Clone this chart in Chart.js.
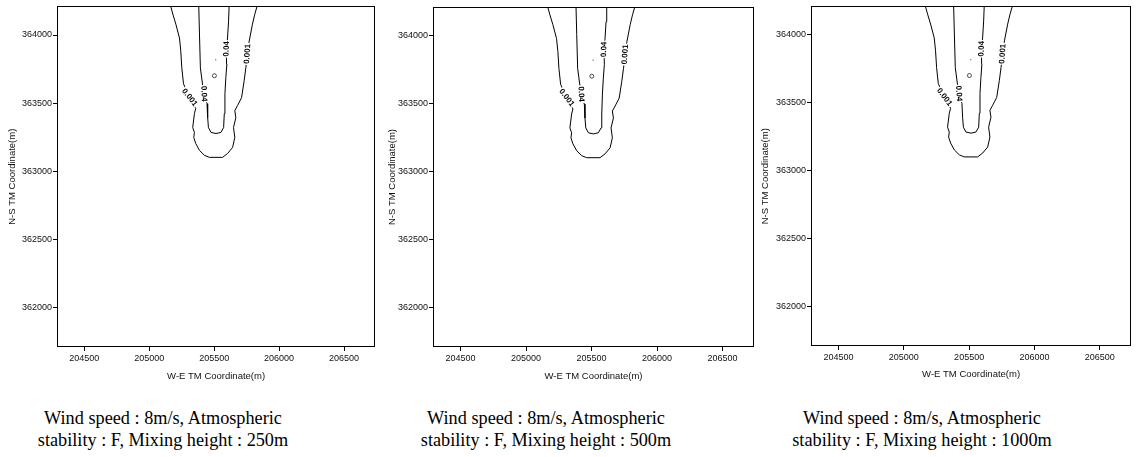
<!DOCTYPE html>
<html>
<head>
<meta charset="utf-8">
<title>Concentration contours - mixing height</title>
<script src="https://cdn.jsdelivr.net/npm/chart.js@4.4.1/dist/chart.umd.min.js"></script>
<style>
body { margin: 0; background: #fff; width: 1136px; height: 457px; overflow: hidden; position: relative; }
.panel { position: absolute; top: 0; height: 390px; }
.cap { position: absolute; top: 407px; font-family: "Liberation Serif", "DejaVu Serif", serif; font-size: 19px;
       line-height: 22px; color: #000; white-space: nowrap; text-align: center; transform: translateX(-50%) scaleX(0.96); }
</style>
</head>
<body>
<div class="panel" style="left:0;width:380px"><canvas id="c1"></canvas></div>
<div class="panel" style="left:380px;width:380px"><canvas id="c2"></canvas></div>
<div class="panel" style="left:760px;width:376px"><canvas id="c3"></canvas></div>
<div class="cap" id="cap1" style="left:163px"></div>
<div class="cap" id="cap2" style="left:546px"></div>
<div class="cap" id="cap3" style="left:922px"></div>
<script>
// axis extents and ticks (TM coordinates, m)
var xMin = 204290, xMax = 206740;
var yMin = 361710, yMax = 364210;
var xTicks = [204500, 205000, 205500, 206000, 206500];
var yTicks = [362000, 362500, 363000, 363500, 364000];

// 0.001 contour
var outerX = [205160, 205182, 205205, 205233, 205243, 205251, 205264, 205310, 205358, 205348, 205335, 205348,
  205343, 205358, 205387, 205425, 205463, 205565, 205604, 205642, 205659, 205649, 205667, 205659, 205680,
  205711, 205731, 205744, 205757, 205770, 205795, 205813, 205836];
var outerY = [364230, 364153, 364080, 363978, 363883, 363759, 363642, 363542, 363460, 363423, 363321, 363285,
  363248, 363204, 363153, 363117, 363102, 363102, 363131, 363175, 363248, 363321, 363394, 363445, 363482,
  363540, 363664, 363759, 363861, 363956, 364080, 364153, 364230];

// 0.04 contour
var innerX = [205381, 205387, 205394, 205420, 205445, 205450, 205456, 205476, 205514, 205552, 205573, 205578,
  205583, 205590, 205598, 205595, 205603, 205611, 205616];
var innerY = [364230, 364007, 363759, 363569, 363496, 363394, 363321, 363285, 363277, 363285, 363321, 363423,
  363569, 363686, 363788, 363898, 363978, 364102, 364230];

// source and max point
var sourceX = [205502], sourceY = [363701];
var peakX = [205512], peakY = [363818];

// contour labels
var labelText = ['0.001', '0.04', '0.04', '0.001'];
var labelX = [205310, 205420, 205595, 205757];
var labelY = [363542, 363569, 363898, 363861];
var labelAngle = [52, 87, -88, -86];

var captions = [
  ['Wind speed : 8m/s, Atmospheric', 'stability : F, Mixing height : 250m'],
  ['Wind speed : 8m/s, Atmospheric', 'stability : F, Mixing height : 500m'],
  ['Wind speed : 8m/s, Atmospheric', 'stability : F, Mixing height : 1000m']
];

function pts(xs, ys) { return xs.map(function (v, i) { return {x: v, y: ys[i]}; }); }

var frame = {
  id: 'frame',
  afterDatasetsDraw: function (chart) {
    var a = chart.chartArea, ctx = chart.ctx;
    ctx.save();
    ctx.strokeStyle = '#000';
    ctx.lineWidth = 1;
    ctx.strokeRect(Math.round(a.left) + 0.5, Math.round(a.top) + 0.5,
      Math.round(a.right - a.left) - 1, Math.round(a.bottom - a.top) - 1);
    ctx.restore();
  }
};

var contourLabels = {
  id: 'contourLabels',
  afterDatasetsDraw: function (chart) {
    var ctx = chart.ctx, sx = chart.scales.x, sy = chart.scales.y;
    ctx.save();
    ctx.font = 'bold 8px "Liberation Sans", Arial, sans-serif';
    ctx.textAlign = 'center';
    ctx.textBaseline = 'middle';
    for (var i = 0; i < labelText.length; i++) {
      var px = sx.getPixelForValue(labelX[i]), py = sy.getPixelForValue(labelY[i]);
      var w = ctx.measureText(labelText[i]).width;
      ctx.save();
      ctx.translate(px, py);
      ctx.rotate(labelAngle[i] * Math.PI / 180);
      ctx.fillStyle = '#fff';
      ctx.fillRect(-w / 2 - 1, -4, w + 2, 8);
      ctx.fillStyle = '#000';
      ctx.fillText(labelText[i], 0, 0);
      ctx.restore();
    }
    ctx.restore();
  }
};

var panels = [
  {id: 'c1', yw: 57, xh: 43, top: 5, right: 1, ytPad: 6.6, xtPad: 7.6},
  {id: 'c2', yw: 53, xh: 43, top: 7, right: 6, ytPad: 6.6, xtPad: 7.6},
  {id: 'c3', yw: 51, xh: 44, top: 5, right: 4, ytPad: 0, xtPad: 9.6}
];

var tickFont = {family: '"Liberation Sans", Arial, sans-serif', size: 9};
var titleFont = {family: '"Liberation Sans", Arial, sans-serif', size: 9.5};

panels.forEach(function (p, k) {
  new Chart(document.getElementById(p.id), {
    type: 'scatter',
    data: {
      datasets: [
        {data: pts(outerX, outerY), showLine: true, borderColor: '#000', borderWidth: 1, pointRadius: 0, tension: 0},
        {data: pts(innerX, innerY), showLine: true, borderColor: '#000', borderWidth: 1, pointRadius: 0, tension: 0},
        {data: pts(sourceX, sourceY), pointRadius: 2, backgroundColor: '#fff', borderColor: '#222', borderWidth: 0.8},
        {data: pts(peakX, peakY), pointRadius: 0.7, backgroundColor: '#777', borderWidth: 0}
      ]
    },
    options: {
      responsive: true,
      maintainAspectRatio: false,
      animation: false,
      events: [],
      layout: {padding: {top: p.top, right: p.right, left: 0, bottom: 0}},
      plugins: {legend: {display: false}, tooltip: {enabled: false}},
      scales: {
        x: {
          type: 'linear', min: xMin, max: xMax,
          afterBuildTicks: function (s) { s.ticks = xTicks.map(function (v) { return {value: v}; }); },
          afterFit: function (s) { s.height = p.xh; },
          grid: {display: true, drawOnChartArea: false, drawTicks: true, tickLength: 4, color: '#000'},
          border: {display: false},
          ticks: {font: tickFont, color: '#111', padding: 2, maxRotation: 0,
                  callback: function (v) { return String(v); }},
          title: {display: true, text: 'W-E TM Coordinate(m)', font: titleFont, color: '#111',
                  padding: {top: 0, bottom: p.xtPad}}
        },
        y: {
          type: 'linear', min: yMin, max: yMax,
          afterBuildTicks: function (s) { s.ticks = yTicks.map(function (v) { return {value: v}; }); },
          afterFit: function (s) { s.width = p.yw; },
          grid: {display: true, drawOnChartArea: false, drawTicks: true, tickLength: 4, color: '#000'},
          border: {display: false},
          ticks: {font: tickFont, color: '#111', padding: 1,
                  callback: function (v) { return String(v); }},
          title: {display: true, text: 'N-S TM Coordinate(m)', font: titleFont, color: '#111',
                  padding: {top: p.ytPad, bottom: 0}}
        }
      }
    },
    plugins: [frame, contourLabels]
  });
  document.getElementById('cap' + (k + 1)).innerHTML = captions[k].join('<br>');
});
</script>
</body>
</html>
